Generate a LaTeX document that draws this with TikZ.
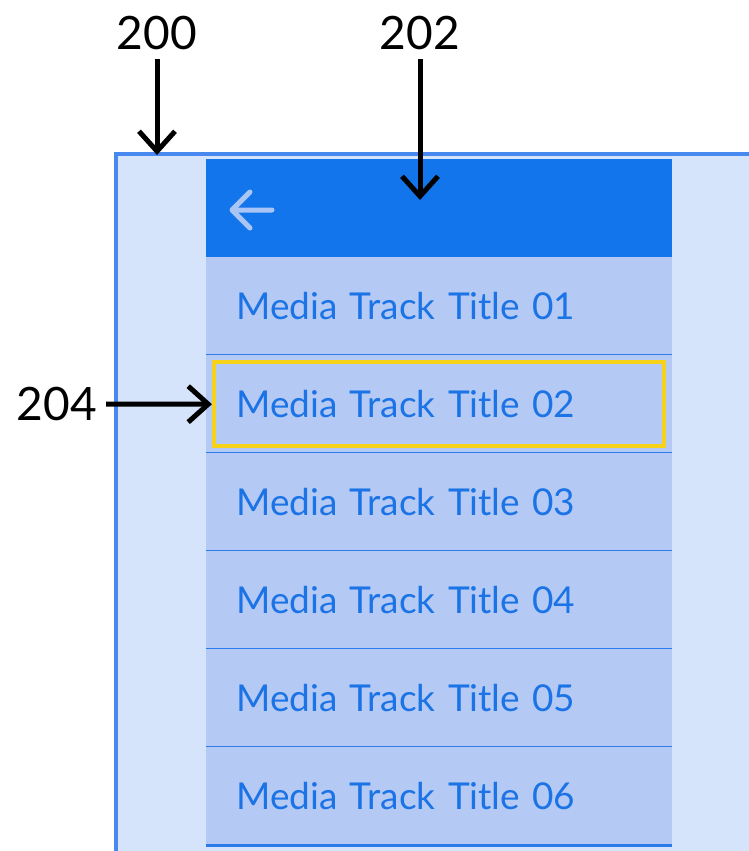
\documentclass[tikz,border=0pt]{standalone}
\usepackage{fontspec}
\setmainfont{Lato}
\usetikzlibrary{arrows.meta}

\definecolor{framefill}{HTML}{D6E4FB}
\definecolor{frameline}{HTML}{4889F0}
\definecolor{headblue}{HTML}{1275EB}
\definecolor{rowfill}{HTML}{B4CAF4}
\definecolor{rowline}{HTML}{2C7BEA}
\definecolor{trackblue}{HTML}{1B73E6}
\definecolor{backarrow}{HTML}{A8C5F5}
\definecolor{focusyellow}{HTML}{F6D31A}

\begin{document}
\begin{tikzpicture}[x=1pt, y=-1pt,
  refnum/.style={font=\fontsize{46}{52}\selectfont, text=black, inner sep=0pt},
  callout/.style={-{Straight Barb[length=20pt, width=36pt]}, line width=5pt, black},
  trackrow/.style={fill=rowfill, minimum height=98pt, text width=406pt, inner xsep=30pt,
    inner ysep=0pt, align=left, anchor=north west, font=\fontsize{37}{42}\selectfont, text=trackblue}
]
\useasboundingbox (0,0) rectangle (749,851);

% Screen
\fill[framefill] (116,154) rectangle (749,851);
\draw[frameline, line width=3.5pt] (749,154) -- (116,154) -- (116,851);

% Header bar with back icon
\node[fill=headblue, minimum width=466pt, minimum height=98pt, inner sep=0pt, anchor=north west] (header) at (206,159) {};
\draw[backarrow, line width=5pt, line cap=round, line join=round]
  (272,210) -- (232,210) (250,192) -- (232,210) -- (250,228);

% Track list
\foreach \i in {1,...,6} {
  \node[trackrow] (row\i) at (206,{257+98*(\i-1)}) {Media Track Title 0\i};
  \draw[rowline, line width=3pt] (row\i.south west) -- (row\i.south east);
}

% Focus frame
\node[draw=focusyellow, line width=4.5pt, minimum width=450pt, minimum height=84pt, inner sep=0pt] (focus) at (row2) {};

% Reference numerals
\node[refnum] (n200) at (157,33) {200};
\node[refnum] (n202) at (420,33) {202};
\node[refnum] (n204) at (57,404) {204};
\coordinate (t200) at (153,155);
\coordinate (t202) at (416,200);

\draw[callout, shorten <=9pt] (n200.south) -- (n200.south |- t200);
\draw[callout, shorten <=9pt] (n202.south) -- (n202.south |- t202);
\draw[callout, shorten <=9pt] (n204.east) -- (focus.west);

\end{tikzpicture}
\end{document}
